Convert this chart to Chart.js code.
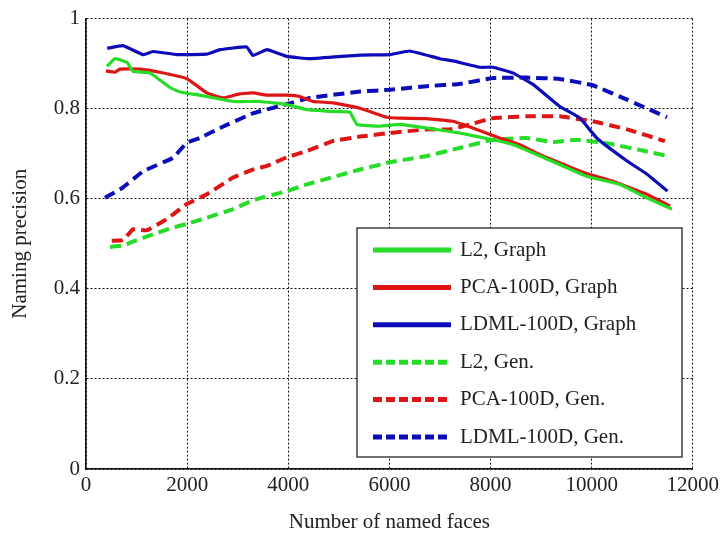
<!DOCTYPE html>
<html>
<head>
<meta charset="utf-8">
<script src="https://cdn.jsdelivr.net/npm/chart.js@4.4.1/dist/chart.umd.min.js"></script>
<style>
  html, body { margin: 0; padding: 0; background: #fff; }
  #wrap { width: 723px; height: 535px; }
</style>
</head>
<body>
<div id="wrap"><canvas id="myChart" width="723" height="535"></canvas></div>
<script>
// tick values
const xTicks = [0, 2000, 4000, 6000, 8000, 10000, 12000];
const yTicks = [0, 0.2, 0.4, 0.6, 0.8, 1];

// L2, Graph
const l2GraphX = [415, 575, 810, 930, 1270, 1660, 1860, 2250, 2910, 3440, 3970, 4370, 4880, 5220, 5360, 5810, 6210, 6740, 7390, 8050, 8450, 8980, 9900, 10550, 11090, 11590];
const l2GraphY = [0.894, 0.911, 0.903, 0.883, 0.879, 0.847, 0.837, 0.830, 0.816, 0.816, 0.809, 0.798, 0.794, 0.792, 0.765, 0.761, 0.765, 0.757, 0.746, 0.731, 0.720, 0.695, 0.650, 0.632, 0.602, 0.577];

// PCA-100D, Graph
const pcaGraphX = [395, 575, 670, 1070, 1460, 1990, 2390, 2710, 3040, 3310, 3580, 3970, 4230, 4490, 4880, 5420, 5950, 6210, 6740, 7260, 7650, 8180, 8580, 8980, 9900, 10420, 11090, 11550];
const pcaGraphY = [0.884, 0.881, 0.888, 0.888, 0.881, 0.867, 0.835, 0.824, 0.833, 0.835, 0.830, 0.830, 0.827, 0.816, 0.813, 0.801, 0.781, 0.779, 0.778, 0.772, 0.757, 0.735, 0.720, 0.698, 0.656, 0.639, 0.610, 0.584];

// LDML-100D, Graph
const ldmlGraphX = [420, 730, 1130, 1330, 1800, 2390, 2650, 3180, 3300, 3580, 3970, 4430, 5420, 6010, 6400, 7000, 7260, 7790, 8050, 8450, 8840, 9370, 9770, 10100, 10700, 11090, 11500];
const ldmlGraphY = [0.934, 0.940, 0.920, 0.927, 0.920, 0.921, 0.931, 0.937, 0.918, 0.931, 0.916, 0.911, 0.919, 0.920, 0.928, 0.911, 0.906, 0.892, 0.892, 0.879, 0.854, 0.805, 0.779, 0.735, 0.684, 0.655, 0.617];

// L2, Gen.
const l2GenX = [475, 730, 930, 1330, 1720, 1990, 2390, 2910, 3310, 3970, 4370, 4880, 5420, 6010, 6740, 7390, 8050, 8710, 9240, 9700, 10360, 11010, 11500];
const l2GenY = [0.493, 0.496, 0.505, 0.521, 0.536, 0.544, 0.558, 0.577, 0.597, 0.617, 0.632, 0.648, 0.665, 0.681, 0.695, 0.713, 0.731, 0.735, 0.726, 0.731, 0.722, 0.707, 0.695];

// PCA-100D, Gen.
const pcaGenX = [510, 730, 930, 1200, 1600, 1990, 2390, 2910, 3310, 3580, 3970, 4370, 4880, 5420, 6010, 6740, 7200, 7590, 8050, 8710, 9370, 10020, 10700, 11450];
const pcaGenY = [0.507, 0.508, 0.532, 0.530, 0.555, 0.588, 0.610, 0.647, 0.665, 0.673, 0.692, 0.706, 0.728, 0.738, 0.746, 0.754, 0.754, 0.765, 0.779, 0.783, 0.783, 0.772, 0.754, 0.728];

// LDML-100D, Gen.
const ldmlGenX = [375, 730, 1130, 1720, 1990, 2250, 2650, 3310, 3970, 4430, 5420, 6010, 6740, 7390, 8050, 8710, 9370, 10020, 10700, 11490];
const ldmlGenY = [0.602, 0.625, 0.661, 0.691, 0.724, 0.735, 0.757, 0.790, 0.810, 0.824, 0.838, 0.842, 0.850, 0.855, 0.868, 0.869, 0.866, 0.852, 0.820, 0.781];

const GREEN = "#26dc26";
const RED = "#dd1515";
const BLUE = "#0c0cb8";
const FONT = "'Liberation Serif', 'DejaVu Serif', serif";

function pts(xs, ys) {
    return xs.map((x, i) => ({ x: x, y: ys[i] }));
}

function series(label, xs, ys, color, dashed) {
    return {
        label: label,
        data: pts(xs, ys),
        borderColor: color,
        backgroundColor: color,
        borderWidth: dashed ? 4 : 3.2,
        borderDash: dashed ? [11, 6] : [],
        pointRadius: 0,
        tension: 0.1,
        fill: false
    };
}

// legend box drawn inside the plot, bottom right
const boxLegend = {
    id: "boxLegend",
    afterDatasetsDraw(chart) {
        const ctx = chart.ctx;
        const left = 357, top = 228, right = 682, bottom = 457;
        ctx.save();
        ctx.fillStyle = "#fff";
        ctx.fillRect(left, top, right - left, bottom - top);
        ctx.strokeStyle = "#222";
        ctx.lineWidth = 1.3;
        ctx.setLineDash([]);
        ctx.strokeRect(left, top, right - left, bottom - top);
        ctx.font = "21px " + FONT;
        ctx.textBaseline = "middle";
        chart.data.datasets.forEach((ds, i) => {
            const y = 250 + i * 37.4;
            ctx.strokeStyle = ds.borderColor;
            ctx.lineWidth = 5;
            ctx.setLineDash(ds.borderDash.length ? [9, 4] : []);
            ctx.beginPath();
            ctx.moveTo(373, y);
            ctx.lineTo(451, y);
            ctx.stroke();
            ctx.fillStyle = "#222";
            ctx.fillText(ds.label, 460, y);
        });
        ctx.restore();
    }
};

const myChartRef = document.getElementById("myChart").getContext("2d");

new Chart(myChartRef, {
    type: "line",
    data: {
        datasets: [
            series("L2, Graph", l2GraphX, l2GraphY, GREEN, false),
            series("PCA-100D, Graph", pcaGraphX, pcaGraphY, RED, false),
            series("LDML-100D, Graph", ldmlGraphX, ldmlGraphY, BLUE, false),
            series("L2, Gen.", l2GenX, l2GenY, GREEN, true),
            series("PCA-100D, Gen.", pcaGenX, pcaGenY, RED, true),
            series("LDML-100D, Gen.", ldmlGenX, ldmlGenY, BLUE, true)
        ]
    },
    options: {
        responsive: false,
        animation: false,
        layout: { padding: { left: 0, right: 29, top: 17, bottom: 0 } },
        plugins: {
            legend: { display: false },
            tooltip: { enabled: false }
        },
        scales: {
            x: {
                type: "linear",
                min: 0,
                max: 12000,
                afterBuildTicks: (axis) => { axis.ticks = xTicks.map(v => ({ value: v })); },
                afterFit: (axis) => { axis.height = 66; },
                grid: {
                    color: "#111",
                    lineWidth: 1,
                    drawTicks: false
                },
                border: { display: true, color: "#111", width: 1.5, dash: [2, 2] },
                ticks: {
                    color: "#222",
                    padding: 4,
                    maxRotation: 0,
                    font: { family: FONT, size: 21 },
                    callback: (v) => String(v)
                },
                title: {
                    display: true,
                    text: "Number of named faces",
                    color: "#222",
                    font: { family: FONT, size: 21 },
                    padding: { top: 13, bottom: 0 }
                }
            },
            y: {
                min: 0,
                max: 1,
                afterBuildTicks: (axis) => { axis.ticks = yTicks.map(v => ({ value: v })); },
                afterFit: (axis) => { axis.width = 86; },
                grid: {
                    color: "#111",
                    lineWidth: 1,
                    drawTicks: false
                },
                border: { display: true, color: "#111", width: 1.5, dash: [2, 2] },
                ticks: {
                    color: "#222",
                    padding: 6,
                    font: { family: FONT, size: 21 },
                    callback: (v) => String(v)
                },
                title: {
                    display: true,
                    text: "Naming precision",
                    color: "#222",
                    font: { family: FONT, size: 21 },
                    padding: { top: 8, bottom: 4 }
                }
            }
        }
    },
    plugins: [boxLegend]
});
</script>
</body>
</html>
